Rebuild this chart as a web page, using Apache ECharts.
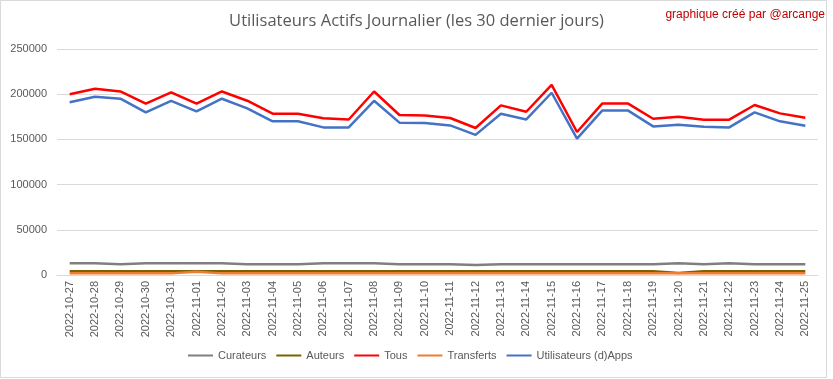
<!DOCTYPE html>
<html>
<head>
<meta charset="utf-8">
<script src="https://cdn.jsdelivr.net/npm/echarts@6/dist/echarts.min.js"></script>
<style>
html,body{margin:0;padding:0;background:#fff;}
#main{width:833px;height:379px;}
</style>
</head>
<body>
<div id="main"></div>
<script>
var categories = ["2022-10-27","2022-10-28","2022-10-29","2022-10-30","2022-10-31","2022-11-01","2022-11-02","2022-11-03","2022-11-04","2022-11-05","2022-11-06","2022-11-07","2022-11-08","2022-11-09","2022-11-10","2022-11-11","2022-11-12","2022-11-13","2022-11-14","2022-11-15","2022-11-16","2022-11-17","2022-11-18","2022-11-19","2022-11-20","2022-11-21","2022-11-22","2022-11-23","2022-11-24","2022-11-25"];
var curateurs = [13000,13000,12000,13000,13000,13000,13000,12000,12000,12000,13000,13000,13000,12000,12000,12000,11000,12000,12000,12000,12000,12000,12000,12000,13000,12000,13000,12000,12000,12000];
var auteurs = [4200,4200,4200,4200,4200,4200,4200,4200,4200,4200,4200,4200,4200,4200,4200,4200,4200,4200,4200,4200,4200,4200,4200,4200,2200,4200,4200,4200,4200,4200];
var tous = [200000,206000,203000,189500,202000,189500,203000,192800,178400,178400,173500,172000,203000,177000,176500,173700,162600,187600,180600,210400,158200,189800,189800,172900,175100,171800,171800,188100,178800,174000];
var transferts = [1800,1800,1800,1800,1800,3500,1800,1800,1800,1800,1800,1800,1800,1800,1800,1800,1800,1800,1800,1800,1800,1800,1800,1800,1800,1800,1800,1800,1800,1800];
var utilisateurs = [191000,197200,195000,179900,192700,181000,195000,184300,170000,170000,163300,163300,192700,168500,168100,165500,155000,178400,172100,201600,150800,182100,182100,164400,166200,164000,163300,179900,170000,165200];
var yTicks = [0,50000,100000,150000,200000,250000];

var font = "'Liberation Sans', 'DejaVu Sans', sans-serif";
var chart = echarts.init(document.getElementById('main'), null, {renderer:'canvas'});
function s(name, data, color){
  return {name:name, type:'line', data:data, symbol:'none', smooth:false,
    lineStyle:{color:color, width:2.5}, itemStyle:{color:color}, emphasis:{disabled:true}};
}
chart.setOption({
  animation:false,
  backgroundColor:'#ffffff',
  graphic:[
    {type:'rect', shape:{x:0.5,y:0.5,width:826,height:377}, style:{fill:'none', stroke:'#d9d9d9', lineWidth:1}, silent:true, z:-1},
    {type:'text', right:8, top:9, style:{text:'graphique créé par @arcange', fill:'#c00000', font:'12px ' + font}}
  ],
  title:{text:'Utilisateurs Actifs Journalier (les 30 dernier jours)', left:'center', top:8,
    textStyle:{color:'#595959', fontSize:16.5, fontWeight:'normal', fontFamily:"'Open Sans', sans-serif"}},
  legend:{bottom:13, left:183, itemWidth:25, itemHeight:2, itemGap:10, icon:'rect',
    textStyle:{color:'#595959', fontSize:11, fontFamily:font},
    data:['Curateurs','Auteurs','Tous','Transferts','Utilisateurs (d)Apps']},
  grid:{left:57, right:15, top:49, bottom:104, containLabel:false},
  xAxis:{type:'category', data:categories, boundaryGap:true,
    axisLine:{lineStyle:{color:'#d9d9d9'}}, axisTick:{show:false},
    axisLabel:{rotate:90, interval:0, margin:6, color:'#595959', fontSize:11, fontFamily:font}},
  yAxis:{type:'value', min:yTicks[0], max:yTicks[yTicks.length-1], interval:50000,
    axisLine:{show:false}, axisTick:{show:false},
    splitLine:{lineStyle:{color:'#d9d9d9'}},
    axisLabel:{margin:10, color:'#595959', fontSize:11, fontFamily:font, formatter:function(v){return String(v);}}},
  series:[
    s('Curateurs', curateurs, '#7f7f7f'),
    s('Auteurs', auteurs, '#7f6000'),
    s('Tous', tous, '#ff0000'),
    s('Transferts', transferts, '#ed7d31'),
    s('Utilisateurs (d)Apps', utilisateurs, '#4472c4')
  ]
});
</script>
</body>
</html>
